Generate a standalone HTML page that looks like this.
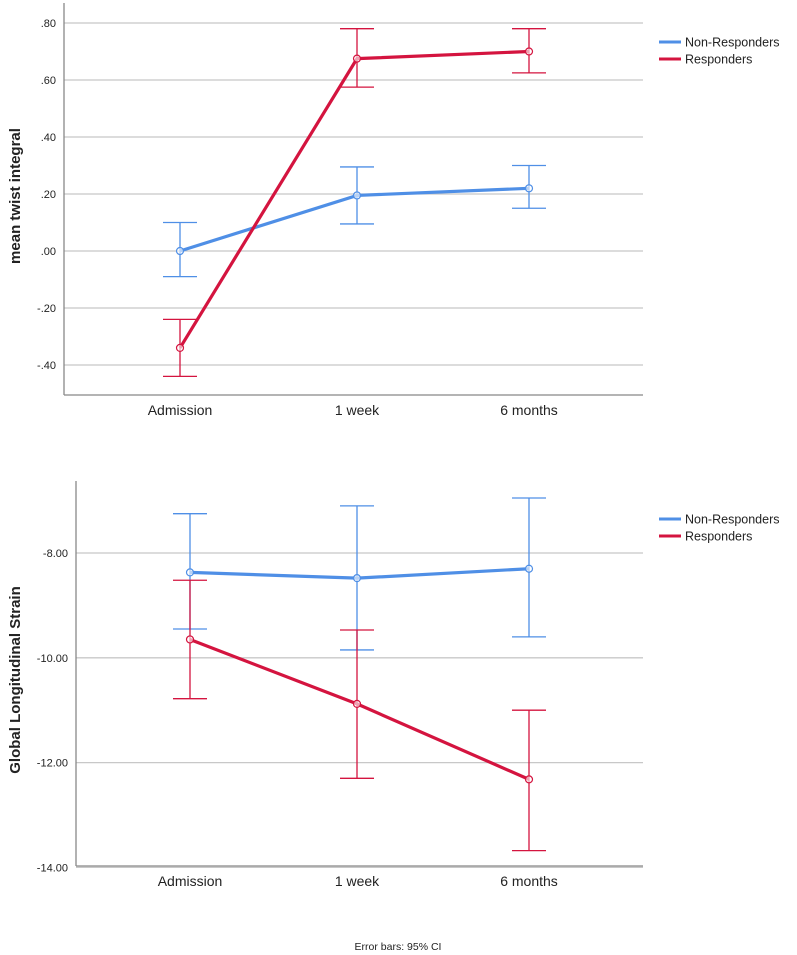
<!DOCTYPE html>
<html><head><meta charset="utf-8"><style>
body{margin:0;background:#fff;width:797px;height:955px;overflow:hidden;font-family:"Liberation Sans",sans-serif}
svg{position:absolute;left:0;top:0}
text{fill:#222}
</style></head><body>
<svg id="c" width="797" height="955"></svg>
<script>
const categories=["Admission","1 week","6 months"];
// top chart
const twistNR=[0.0,0.195,0.22], twistNRlo=[-0.09,0.095,0.15], twistNRhi=[0.10,0.295,0.30];
const twistR=[-0.34,0.675,0.70], twistRlo=[-0.44,0.575,0.625], twistRhi=[-0.24,0.78,0.78];
const twistTicks=[0.8,0.6,0.4,0.2,0,-0.2,-0.4];
const twistTickLabels=[".80",".60",".40",".20",".00","-.20","-.40"];
// bottom chart
const glsNR=[-8.37,-8.48,-8.3], glsNRlo=[-9.45,-9.85,-9.6], glsNRhi=[-7.25,-7.1,-6.95];
const glsR=[-9.65,-10.88,-12.32], glsRlo=[-10.78,-12.3,-13.68], glsRhi=[-8.52,-9.47,-11.0];
const glsTicks=[-8,-10,-12,-14];
const glsTickLabels=["-8.00","-10.00","-12.00","-14.00"];

const NS="http://www.w3.org/2000/svg", svg=document.getElementById('c');
function mk(t,a,p){const e=document.createElementNS(NS,t);for(const k in a)e.setAttribute(k,a[k]);(p||svg).appendChild(e);return e;}
const BLUE="#4f8fe6", RED="#d4143f";

function chart(o){
  const g=mk('g',{});
  
  
  const y=v=>o.y0+(v-o.v0)*o.k;
  const x=i=>o.xs[i];
  o.ticks.forEach((t,i)=>{
    const l=mk('line',{x1:o.axX,x2:o.right,y1:y(t),y2:y(t),stroke:'#c8c8c8','stroke-width':1.3},g);
    
    const tx=mk('text',{x:o.axX-8,y:y(t)+4,'text-anchor':'end','font-size':11},g);
    tx.textContent=o.labels[i];
    
  });
  const ya=mk('line',{x1:o.axX,x2:o.axX,y1:o.top,y2:o.bottom,stroke:'#888','stroke-width':1.3},g);
  
  const xa=mk('line',{x1:o.axX,x2:o.right,y1:o.bottom,y2:o.bottom,stroke:'#888','stroke-width':1.3},g);
  
  categories.forEach((c,i)=>{
    const t=mk('text',{x:x(i),y:o.bottom+20,'text-anchor':'middle','font-size':14},g);
    t.textContent=c;
  });
  const yt=mk('text',{transform:`translate(${o.titleX},${o.titleY}) rotate(-90)`,'text-anchor':'middle','font-size':15,'font-weight':'bold'},g);
  yt.textContent=o.title;
  o.series.forEach(s=>{
    s.lo.forEach((lo,i)=>{
      const eb=mk('path',{d:`M${x(i)-17},${y(s.hi[i])}H${x(i)+17}M${x(i)},${y(s.hi[i])}V${y(lo)}M${x(i)-17},${y(lo)}H${x(i)+17}`,stroke:s.c,'stroke-width':1.3,fill:'none'},g);
      
    });
    const pl=mk('polyline',{points:s.v.map((v,i)=>x(i)+','+y(v)).join(' '),stroke:s.c,'stroke-width':3.2,fill:'none'},g);
    
    s.v.forEach((v,i)=>{
      const p=mk('circle',{cx:x(i),cy:y(v),r:3.5,fill:'#fff','fill-opacity':0.6,stroke:s.c,'stroke-width':1.2},g);
      
    });
  });
  [["Non-Responders",BLUE],["Responders",RED]].forEach((l,i)=>{
    const ly=o.legY+i*17;
    const ll=mk('line',{x1:659,x2:681,y1:ly,y2:ly,stroke:l[1],'stroke-width':3},g);
    
    const lt=mk('text',{x:685,y:ly+4.5,'font-size':12.5},g);
    lt.textContent=l[0];
  });
}
chart({name:'twist-chart',xs:[180,357,529],axX:64,right:643,top:3,bottom:395,y0:251,v0:0,k:-285,
  ticks:twistTicks,labels:twistTickLabels,title:'mean twist integral',titleX:20,titleY:196,legY:42,
  series:[{v:twistNR,lo:twistNRlo,hi:twistNRhi,c:BLUE},{v:twistR,lo:twistRlo,hi:twistRhi,c:RED}]});
chart({name:'gls-chart',xs:[190,357,529],axX:76,right:643,top:481,bottom:866,y0:553,v0:-8,k:-52.4,
  ticks:glsTicks,labels:glsTickLabels,title:'Global Longitudinal Strain',titleX:20,titleY:680,legY:519,
  series:[{v:glsNR,lo:glsNRlo,hi:glsNRhi,c:BLUE},{v:glsR,lo:glsRlo,hi:glsRhi,c:RED}]});
const f=mk('text',{x:398,y:950,'text-anchor':'middle','font-size':10.5});
f.textContent='Error bars: 95% CI';


</script>
</body></html>
